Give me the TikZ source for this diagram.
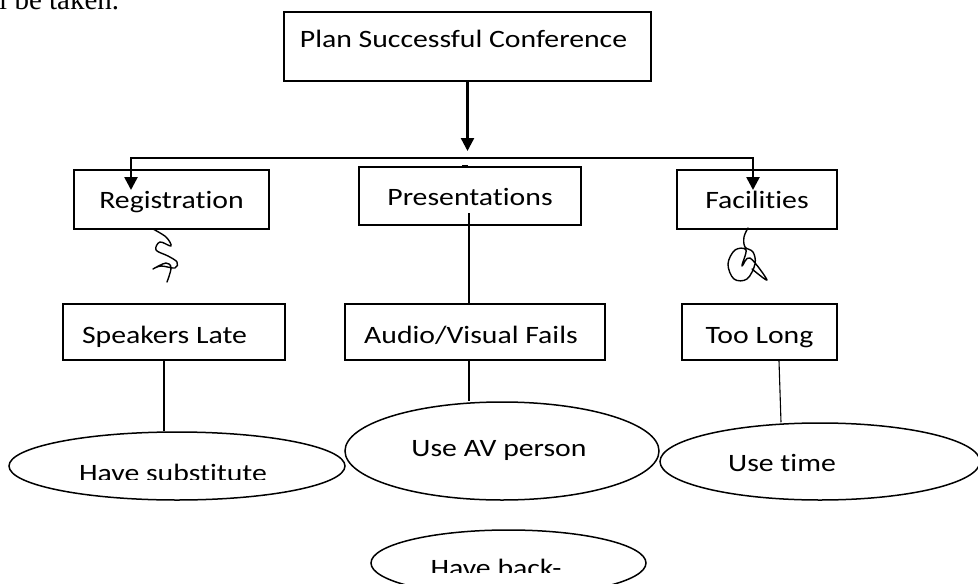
\documentclass[tikz,border=0pt]{standalone}
\usepackage{fontspec}
\setmainfont{Carlito}[FakeStretch=1.19, Ligatures=NoCommon]
\newfontfamily\bodyserif{Liberation Serif}
\usetikzlibrary{shapes.geometric,arrows.meta}

\tikzset{
  box/.style={draw, line width=1.8pt, inner sep=0pt, font=\fontsize{25}{30}\selectfont, text depth=0pt},
  oval/.style={draw, ellipse, line width=1.5pt, inner sep=0pt},
  ovaltext/.style={inner sep=0pt, anchor=base, font=\fontsize{25}{30}\selectfont},
  link/.style={line width=1.5pt},
  thinlink/.style={line width=1.1pt},
  tip/.style={Triangle[width=13pt,length=13pt]},
  feed/.style={line width=2.4pt, -{Triangle[width=13pt,length=13pt]}},
  scribble/.style={line width=1.4pt, line cap=round, line join=round}
}

\begin{document}
\begin{tikzpicture}[x=1pt,y=-1pt]
\useasboundingbox (0,0) rectangle (978,584);

% running text above the chart
\node[anchor=base west, inner sep=0pt, font=\bodyserif\fontsize{29}{34}\selectfont] (runon) at (-1,9.5) {l be taken.};

% goal
\node[box, minimum width=367pt, minimum height=69pt, text height=1pt] (goal) at (467.5,46.5) {Plan Successful Conference\hspace*{8pt}};

% first level
\node[box, minimum width=195pt, minimum height=59pt, text height=17pt] (reg) at (171.5,199.5) {Registration};
\node[box, minimum width=222pt, minimum height=58pt, text height=18pt] (pres) at (470,196) {Presentations};
\node[box, minimum width=160pt, minimum height=59pt, text height=17pt] (fac) at (757,199.5) {Facilities};

% risks
\node[box, minimum width=222pt, minimum height=56pt, text height=22pt] (late) at (174,332) {Speakers Late\hspace*{19pt}};
\node[box, minimum width=260pt, minimum height=56pt, text height=22pt] (av) at (475,332) {Audio/Visual Fails\hspace*{8pt}};
\node[box, minimum width=155pt, minimum height=56pt, text height=22pt] (long) at (759.5,332) {Too Long};

% responses
\node[oval, minimum width=336pt, minimum height=68pt] (sub) at (177,466) {};
\node[oval, minimum width=314pt, minimum height=98pt] (avp) at (502,451) {};
\node[oval, minimum width=320pt, minimum height=77pt] (tim) at (820,461.5) {};
\node[oval, minimum width=275pt, minimum height=66pt] (back) at (508.5,563) {};

\begin{scope}
  \clip (0,400) rectangle (978,479);
  \node[ovaltext] (subtext) at (173,481) {Have substitute};
\end{scope}
\node[ovaltext] (avptext) at (499,456) {Use AV person};
\node[ovaltext] (timtext) at (782,471) {Use time};
\begin{scope}
  \clip (0,530) rectangle (978,572);
  \node[ovaltext] (backtext) at (496,576) {Have back-};
\end{scope}

% connectors
\coordinate (hubtip) at (467.5,151);
\coordinate (busL) at (131,158);
\coordinate (busR) at (753,158);
\coordinate (regtip) at (131,190);
\coordinate (factip) at (753,190);
\coordinate (presdrop) at (469,213);

\draw[feed] (goal.south) -- (hubtip);
\draw[line width=2.6pt, {Triangle[width=13pt,length=13pt]}-{Triangle[width=13pt,length=13pt]}]
  (regtip) -- (busL) -- (busR) -- (factip);
\draw[line width=1.6pt] ([xshift=-8pt]pres.north) -- ([xshift=-2pt]pres.north);

\draw[link] (presdrop) -- (presdrop |- av.north);
\draw[thinlink] ([xshift=-10pt]late.south) -- ([xshift=-10pt]late.south |- sub.north);
\draw[thinlink] ([xshift=-6pt]av.south) -- ([xshift=-6pt]av.south |- avp.north);
\draw[thinlink] ([xshift=19.5pt]long.south) -- ([xshift=21.5pt]long.south |- tim.north);

% hand-drawn marks under the first level
\draw[scribble] plot[smooth, tension=0.6] coordinates {
  (153,229) (166,237) (171,246) (160,242) (156,250) (168,256) (177,262)
  (175,268) (161,266) (153,269) (166,263) (171,268) (167,282)};
\draw[scribble] plot[smooth, tension=0.6] coordinates {
  (748,228) (744,237) (745,247) (753,252) (755,264) (747,279) (734,279)
  (728,264) (735,250) (746,250) (742,266) (750,258) (767,280) (752,269)};

\end{tikzpicture}
\end{document}
